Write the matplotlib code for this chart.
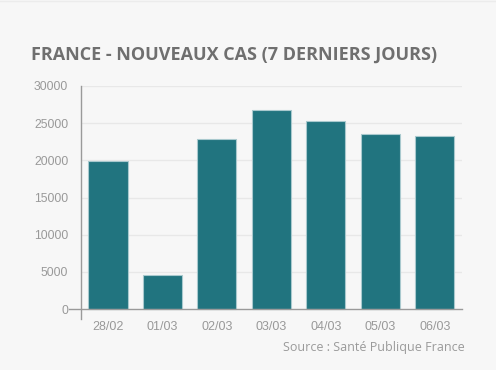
import matplotlib
matplotlib.use("Agg")
import matplotlib.pyplot as plt

categories = ["28/02", "01/03", "02/03", "03/03", "04/03", "05/03", "06/03"]
values = [19920, 4650, 22840, 26770, 25260, 23510, 23280]
yticks = [0, 5000, 10000, 15000, 20000, 25000, 30000]

W, H = 496, 370
fig = plt.figure(figsize=(W / 100, H / 100), dpi=100)
fig.patch.set_facecolor("#f7f7f7")

# axes placement in pixels
left, right, top, zero_y, bottom_ext = 80.7, 462, 86, 309.2, 319
ax = fig.add_axes([left / W, 1 - bottom_ext / H, (right - left) / W, (bottom_ext - top) / H])
ax.set_facecolor("#f7f7f7")

px_per_unit = (zero_y - top) / 30000
ymin = -(bottom_ext - zero_y) / px_per_unit
ax.set_ylim(ymin, 30000)
ax.set_xlim(-0.5, len(categories) - 0.5)

ax.bar(range(len(categories)), values, width=0.72, color="#21747f",
       edgecolor="#a9c9ce", linewidth=0.8, zorder=3)

for s in ["top", "right", "bottom"]:
    ax.spines[s].set_visible(False)
ax.spines["left"].set_color("#9a9a9a")
ax.spines["left"].set_linewidth(1)

ax.set_yticks(yticks)
ax.set_yticklabels([str(v) for v in yticks], fontfamily="Liberation Sans",
                   fontsize=8.8, color="#999999")
ax.tick_params(axis="y", length=0, pad=9)
for v in yticks[1:]:
    ax.axhline(v, color="#e8e8e8", linewidth=1, zorder=1)
# x axis line, extends left past spine
ax.plot([-0.03, 1], [0, 0], transform=ax.get_yaxis_transform(), color="#9a9a9a",
        linewidth=1, clip_on=False, zorder=4)

ax.set_xticks(range(len(categories)))
ax.set_xticklabels(categories, fontfamily="Liberation Sans", fontsize=9, color="#999999")
ax.tick_params(axis="x", length=0, pad=1.5)

fig.text(31 / W, 1 - 55 / H, "FRANCE - NOUVEAUX CAS (7 DERNIERS JOURS)",
         fontfamily="Open Sans", fontweight="bold", fontsize=13, color="#6f6f6f",
         ha="left", va="center")
fig.text(465 / W, 1 - 348 / H, "Source : Santé Publique France",
         fontfamily="Open Sans", fontsize=9, color="#9a9a9a", ha="right", va="center")

fig.add_artist(plt.Line2D([0, 1], [1 - 0.5 / H, 1 - 0.5 / H], color="#ececec", linewidth=1))

fig.savefig("out.png", dpi=100, facecolor=fig.get_facecolor())
